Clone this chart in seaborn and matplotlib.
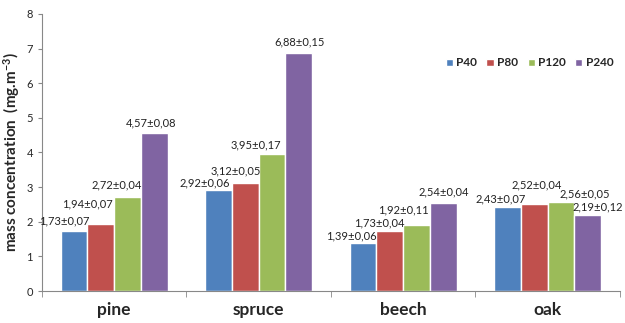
import numpy as np
import pandas as pd
import matplotlib
matplotlib.use("Agg")
import matplotlib.pyplot as plt
import seaborn as sns

# ============================================================
# DATA
# ============================================================
woods = ["pine", "spruce", "beech", "oak"]
grits = ["P40", "P80", "P120", "P240"]

mean_p40 = [1.73, 2.92, 1.39, 2.43]
mean_p80 = [1.94, 3.12, 1.73, 2.52]
mean_p120 = [2.72, 3.95, 1.92, 2.56]
mean_p240 = [4.57, 6.88, 2.54, 2.19]

sd_p40 = [0.07, 0.06, 0.06, 0.07]
sd_p80 = [0.07, 0.05, 0.04, 0.04]
sd_p120 = [0.04, 0.17, 0.11, 0.05]
sd_p240 = [0.08, 0.15, 0.04, 0.12]

y_ticks = [0, 1, 2, 3, 4, 5, 6, 7, 8]

COLORS = ["#4F81BD", "#C0504D", "#9BBB59", "#8064A2"]

# label nudges (pixels) so the value labels don't collide, like Excel does
label_dx = {
    "P40": [-10, -14, -12, -7],
    "P80": [-13, -10, -11, 2],
    "P120": [-11, -16, -13, 24],
    "P240": [-3, 1, 0, 10],
}
label_dy = {
    "P40": [3, 0, 0, 1],
    "P80": [13, 5, 1, 12],
    "P120": [5, 2, 8, 1],
    "P240": [3, 4, 4, 1],
}

means = [mean_p40, mean_p80, mean_p120, mean_p240]
sds = [sd_p40, sd_p80, sd_p120, sd_p240]

rows = []
for g, m, s in zip(grits, means, sds):
    for w, mv, sv in zip(woods, m, s):
        rows.append({"wood": w, "grit": g, "conc": mv, "sd": sv})
df = pd.DataFrame(rows)

# ============================================================
# PLOT
# ============================================================
sns.set_style("white")
plt.rcParams["font.family"] = ["Lato", "DejaVu Sans"]
plt.rcParams["mathtext.default"] = "regular"

fig = plt.figure(figsize=(6.25, 3.23), dpi=100)
ax = fig.add_axes([0.067, 0.099, 0.925, 0.858])

sns.barplot(data=df, x="wood", y="conc", hue="grit", order=woods,
            hue_order=grits, palette=COLORS, width=0.74, gap=0,
            saturation=1, errorbar=None, ax=ax)

for container, g in zip(ax.containers, grits):
    sub = df[df["grit"] == g].set_index("wood").loc[woods]
    for i, bar in enumerate(container):
        txt = f"{sub['conc'].iloc[i]:.2f}±{sub['sd'].iloc[i]:.2f}".replace(".", ",")
        ax.annotate(txt, (bar.get_x() + bar.get_width() / 2, bar.get_height()),
                    xytext=(label_dx[g][i], 7 + label_dy[g][i]),
                    textcoords="offset pixels", ha="center", va="center",
                    fontsize=8, color="#222222")

ax.set_ylim(0, 8)
ax.set_xlim(-0.5, len(woods) - 0.5)
ax.set_yticks(y_ticks)
ax.tick_params(axis="y", labelsize=8, length=3, color="#888888", direction="out", left=True)
ax.tick_params(axis="x", which="major", labelsize=12.5, length=0, pad=8)
for lbl in ax.get_xticklabels():
    lbl.set_fontweight("bold")
ax.set_xticks(np.arange(-0.5, len(woods)), minor=True)
ax.tick_params(axis="x", which="minor", length=4, color="#888888", direction="out", bottom=True)

ax.set_xlabel("")
ax.set_ylabel("mass concentration  (mg.m$^{-3}$)", fontsize=11, fontweight="bold", labelpad=3)

for side in ["top", "right"]:
    ax.spines[side].set_visible(False)
for side in ["left", "bottom"]:
    ax.spines[side].set_color("#888888")
    ax.spines[side].set_linewidth(0.8)

leg = ax.legend(loc="upper left", bbox_to_anchor=(0.69, 0.86), ncol=4, frameon=False,
                handlelength=0.6, handleheight=0.6, handletextpad=0.3,
                columnspacing=0.8, fontsize=8.5, borderaxespad=0)
for t in leg.get_texts():
    t.set_fontweight("bold")

fig.savefig("out.png", dpi=100)
